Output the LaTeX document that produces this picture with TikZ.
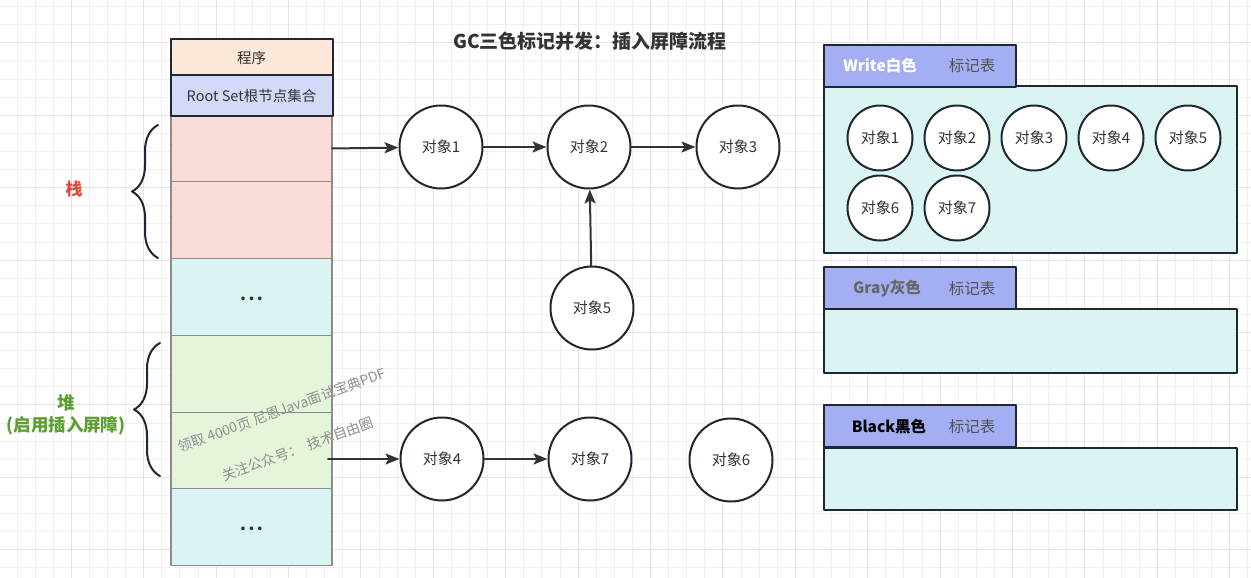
\documentclass[tikz,border=0pt]{standalone}
\usepackage{fontspec}
\setmainfont{Noto Sans CJK SC}
\usetikzlibrary{arrows.meta,positioning,decorations.pathreplacing}

\definecolor{ink}{HTML}{1F2830}
\definecolor{txt}{HTML}{333333}
\definecolor{cellgray}{HTML}{8C8C8C}
\definecolor{peach}{HTML}{FCE8D8}
\definecolor{lavender}{HTML}{D5D9F8}
\definecolor{stackpink}{HTML}{F9DBD8}
\definecolor{cyanbg}{HTML}{DAF4F4}
\definecolor{heapgreen}{HTML}{E4F5DA}
\definecolor{tabblue}{HTML}{A3AEF3}
\definecolor{stackred}{HTML}{E5473B}
\definecolor{heapgreentxt}{HTML}{5B9F2E}
\definecolor{gridminor}{HTML}{EFEFEF}
\definecolor{gridmajor}{HTML}{E3E3E3}
\definecolor{wmark}{HTML}{8F8F8F}

\tikzset{
  fs/.style={font=\fontsize{#1}{#1}\selectfont},
  cell/.style={draw=cellgray, line width=1.2pt, minimum width=161pt, inner sep=0pt, outer sep=0pt, fs=14.5, text=txt},
  topbox/.style={draw=ink, line width=2pt, minimum width=162pt, inner sep=0pt, outer sep=0pt, fs=14.5, text=txt},
  obj/.style={circle, draw=ink, line width=2pt, fill=white, minimum size=83pt, inner sep=0pt, fs=15, text=txt},
  smallobj/.style={obj, minimum size=65pt},
  arr/.style={draw=txt, line width=2pt, -{Stealth[length=14pt,width=11pt,inset=3pt]}},
  bracel/.style={decorate, decoration={brace, amplitude=26pt}, draw=ink, line width=2pt},
  panel/.style={draw=ink, line width=2pt, fill=cyanbg, minimum width=413pt, anchor=north west, outer sep=0pt},
  tab/.style={draw=ink, line width=2pt, fill=tabblue, minimum width=192pt, minimum height=42pt, anchor=north west, outer sep=0pt},
  tabname/.style={font=\fontsize{15.5}{15.5}\selectfont\bfseries},
  tabmark/.style={fs=15.5, text=txt!85!white},
}
\newcommand{\celldots}{\raisebox{-7pt}{\fontsize{17}{17}\selectfont\bfseries .\kern2.5pt.\kern2.5pt.}}

\begin{document}
\begin{tikzpicture}[x=1pt, y=-1pt, line cap=round, line join=round]
  \useasboundingbox (0,0) rectangle (1251,578);
  \fill[white] (0,0) rectangle (1251,578);                       % background
  \foreach \k in {0,...,68} {
    \draw[gridminor, line width=1pt] (17+18.1*\k,0) -- ++(0,578);   % grid columns
  }
  \foreach \k in {0,...,31} {
    \draw[gridminor, line width=1pt] (0,6.7+18.1*\k) -- ++(1251,0); % grid rows
  }
  \foreach \k in {0,...,16} {
    \draw[gridmajor, line width=1pt] (71.3+72.4*\k,0) -- ++(0,578);
  }
  \foreach \k in {0,...,7} {
    \draw[gridmajor, line width=1pt] (0,42.9+72.4*\k) -- ++(1251,0);
  }

  % title
  \node[font=\fontsize{19}{19}\selectfont\bfseries, text=txt] (title) at (590,41) {GC三色标记并发：插入屏障流程};

  % stack column
  \node[cell, fill=stackpink, minimum height=66pt] (s1) at (251.5,148.5) {};
  \node[cell, fill=stackpink, minimum height=77pt, below=0pt of s1] (s2) {};
  \node[cell, fill=cyanbg, minimum height=77pt, below=0pt of s2] (d1) {\celldots};
  \node[cell, fill=heapgreen, minimum height=77pt, below=0pt of d1] (h1) {};
  \node[cell, fill=heapgreen, minimum height=76pt, below=0pt of h1] (h2) {};
  \node[cell, fill=cyanbg, minimum height=77pt, below=0pt of h2] (d2) {\celldots};
  \node[topbox, fill=lavender, minimum height=40pt, above=0pt of s1] (root) {Root Set根节点集合};
  \node[topbox, fill=peach, minimum height=36pt, above=0pt of root] (prog) {程序};

  % braces and labels
  \draw[bracel] (158,258) -- (158,125);
  \draw[bracel] (160,476) -- (160,343);
  \node[font=\fontsize{17}{17}\selectfont\bfseries, text=stackred] (stacklbl) at (74,189) {栈};
  \node[font=\fontsize{17.5}{22}\selectfont\bfseries, text=heapgreentxt, align=center] (heaplbl) at (66,415) {堆\\(启用插入屏障)};

  % watermark
  \node[fs=14, text=wmark, rotate=20] (wm1) at (282,410) {领取 4000页 尼恩Java面试宝典PDF};
  \node[fs=14, text=wmark, rotate=20] (wm2) at (298,449) {关注公众号：\ \ 技术自由圈};

  % objects
  \node[obj] (o1) at (441,147) {对象1};
  \node[obj] (o2) at (589,147) {对象2};
  \node[obj] (o3) at (738,147) {对象3};
  \node[obj] (o5) at (592,308) {对象5};
  \node[obj] (o4) at (442,459) {对象4};
  \node[obj] (o7) at (590,459) {对象7};
  \node[obj] (o6) at (731,460) {对象6};

  \draw[arr] (s1.east) -- (o1);
  \draw[arr] (o1) -- (o2);
  \draw[arr] (o2) -- (o3);
  \draw[arr] (o5) -- (o2);
  \draw[arr] ([xshift=-4pt]h2.east |- o4) -- (o4);
  \draw[arr] (o4) -- (o7);

  % mark tables
  \node[panel, minimum height=167pt] (wbody) at (824,86) {};
  \node[tab] (wtab) at (824,45) {};
  \node[tabname, text=white] (wname) at (880,66) {Write白色};
  \node[tabmark] (wmarkt) at (972,66) {标记表};
  \foreach \i in {1,...,5} {
    \node[smallobj] (w\i) at (803+77*\i,138) {对象\i};
  }
  \node[smallobj] (w6) at (880,208) {对象6};
  \node[smallobj] (w7) at (957,208) {对象7};

  \node[panel, minimum height=64pt] (gbody) at (824,309) {};
  \node[tab] (gtab) at (824,267) {};
  \node[tabname, text=txt!75!white] (gname) at (887,288.5) {Gray灰色};
  \node[tabmark] (gmarkt) at (972,288.5) {标记表};

  \node[panel, minimum height=62pt] (bbody) at (824,448) {};
  \node[tab] (btab) at (824,405) {};
  \node[tabname, text=black] (bname) at (889,426.5) {Black黑色};
  \node[tabmark] (bmarkt) at (972,426.5) {标记表};
\end{tikzpicture}
\end{document}
